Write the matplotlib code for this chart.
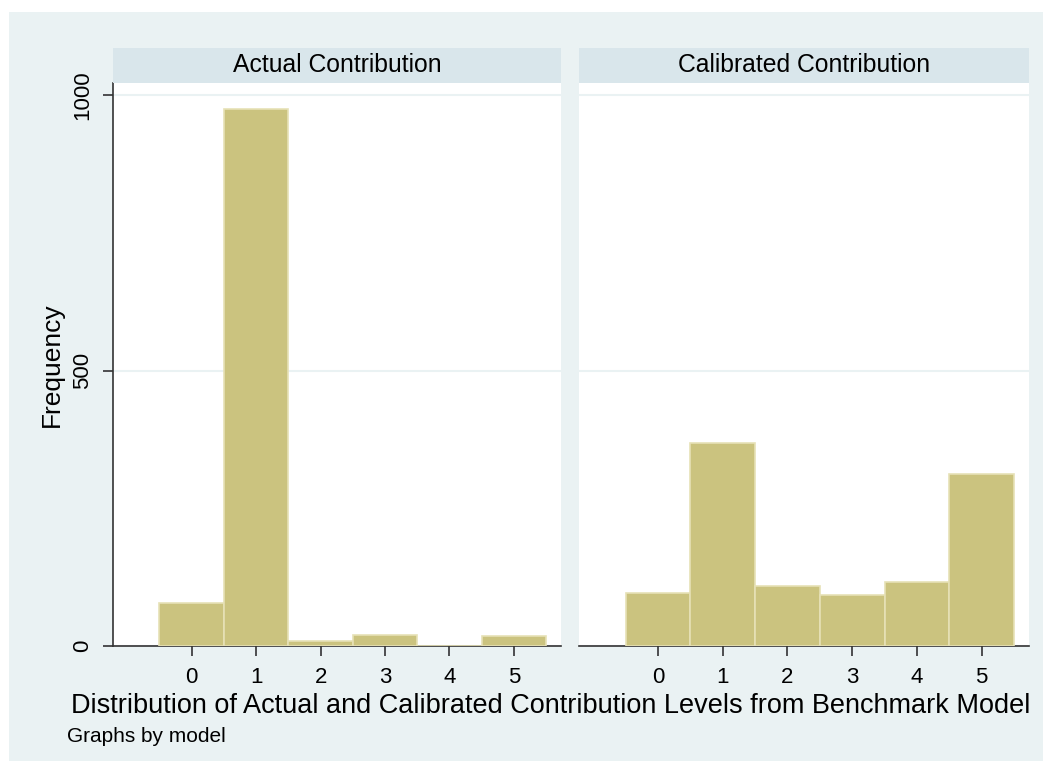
import matplotlib.pyplot as plt
from matplotlib.patches import Rectangle

plt.rcParams['font.family'] = ['Liberation Sans', 'DejaVu Sans']

# contribution levels and counts per model
levels = [0, 1, 2, 3, 4, 5]
actual_freq = [78, 975, 9, 20, 0, 19]
calibrated_freq = [96, 369, 109, 93, 117, 312]
panel_titles = ["Actual Contribution", "Calibrated Contribution"]
y_ticks = [0, 500, 1000]

W, H = 1052, 772
bg = "#EAF2F3"
strip_col = "#D9E6EB"
bar_col = "#CBC37F"
bar_edge = "#E6E1B6"
axis_col = "#333333"

fig = plt.figure(figsize=(W / 100, H / 100), dpi=100)
fig.patch.set_facecolor("white")
# light outer graph region
fig.patches.append(Rectangle((9 / W, 1 - 761 / H), (1043 - 9) / W, (761 - 12) / H,
                             transform=fig.transFigure, facecolor=bg,
                             edgecolor="none", zorder=-5))


def px_box(x0, y0, x1, y1):
    return [x0 / W, 1 - y1 / H, (x1 - x0) / W, (y1 - y0) / H]


panels = [(113, 561, actual_freq), (579, 1029, calibrated_freq)]
for i, (x0, x1, freq) in enumerate(panels):
    ax = fig.add_axes(px_box(x0, 83, x1, 646))
    ax.set_facecolor("white")
    ax.bar(levels, freq, width=1.0, color=bar_col, edgecolor=bar_edge,
           linewidth=1.2, zorder=3)
    ax.set_xlim(-1.22, 5.73)
    ax.set_ylim(0, 1022)
    ax.set_yticks(y_ticks)
    ax.set_xticks(levels)
    ax.grid(axis="y", color=bg, linewidth=1.5, zorder=1)
    for s in ax.spines.values():
        s.set_visible(False)
    ax.spines["bottom"].set_visible(True)
    ax.spines["bottom"].set_color(axis_col)
    ax.spines["bottom"].set_linewidth(1.2)
    ax.tick_params(axis="x", length=7, width=1.2, color=axis_col,
                   labelsize=16, pad=8)
    if i == 0:
        ax.spines["left"].set_visible(True)
        ax.spines["left"].set_color(axis_col)
        ax.spines["left"].set_linewidth(1.2)
        ax.tick_params(axis="y", length=7, width=1.2, color=axis_col,
                       labelsize=16, pad=7)
        for lab in ax.get_yticklabels():
            lab.set_rotation(90)
            lab.set_va("center")
        ax.set_ylabel("Frequency", fontsize=19, labelpad=6)
    else:
        ax.tick_params(axis="y", left=False, labelleft=False)

    # panel header strip
    sax = fig.add_axes(px_box(x0, 48, x1, 83))
    sax.set_facecolor(strip_col)
    sax.set_xticks([])
    sax.set_yticks([])
    for s in sax.spines.values():
        s.set_visible(False)
    sax.text(0.5, 0.5, panel_titles[i], ha="center", va="center",
             fontsize=17.8, transform=sax.transAxes)

fig.text(551 / W, 1 - 706 / H,
         "Distribution of Actual and Calibrated Contribution Levels from Benchmark Model",
         ha="center", va="center", fontsize=19.5)
fig.text(67 / W, 1 - 736 / H, "Graphs by model", ha="left", va="center",
         fontsize=15)

fig.savefig("out.png", dpi=100, facecolor=fig.get_facecolor())
